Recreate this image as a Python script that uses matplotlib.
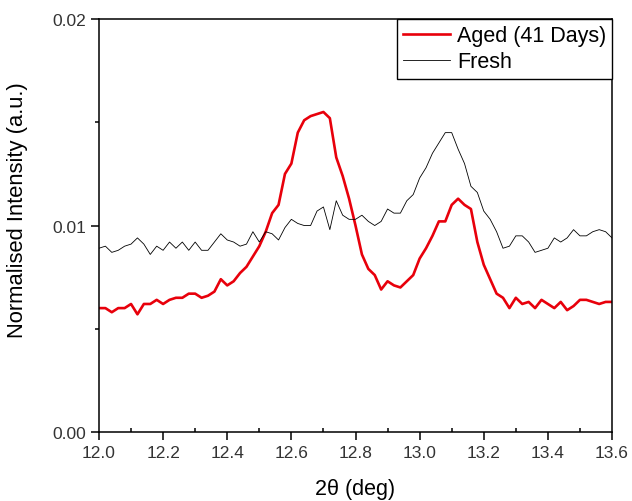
import numpy as np
import matplotlib
matplotlib.use("Agg")
import matplotlib.pyplot as plt
from matplotlib.ticker import MultipleLocator, FormatStrFormatter

plt.rcParams['font.family'] = ['Liberation Sans', 'DejaVu Sans']

# 2theta grid (deg), 0.02 step
two_theta = np.round(np.arange(12.0, 13.6001, 0.02), 2)

aged = [0.0060, 0.0060, 0.0058, 0.0060, 0.0060, 0.0062, 0.0057, 0.0062, 0.0062, 0.0064,
        0.0062, 0.0064, 0.0065, 0.0065, 0.0067, 0.0067, 0.0065, 0.0066, 0.0068, 0.0074,
        0.0071, 0.0073, 0.0077, 0.0080, 0.0085, 0.0090, 0.0097, 0.0106, 0.0110, 0.0125,
        0.0130, 0.0145, 0.0151, 0.0153, 0.0154, 0.0155, 0.0152, 0.0133, 0.0124, 0.0113,
        0.0100, 0.0086, 0.0079, 0.0076, 0.0069, 0.0073, 0.0071, 0.0070, 0.0073, 0.0076,
        0.0084, 0.0089, 0.0095, 0.0102, 0.0102, 0.0110, 0.0113, 0.0110, 0.0108, 0.0092,
        0.0081, 0.0074, 0.0067, 0.0065, 0.0060, 0.0065, 0.0062, 0.0063, 0.0060, 0.0064,
        0.0062, 0.0060, 0.0063, 0.0059, 0.0061, 0.0064, 0.0064, 0.0063, 0.0062, 0.0063,
        0.0063]

fresh = [0.0089, 0.0090, 0.0087, 0.0088, 0.0090, 0.0091, 0.0094, 0.0091, 0.0086, 0.0090,
         0.0088, 0.0092, 0.0089, 0.0092, 0.0088, 0.0092, 0.0088, 0.0088, 0.0092, 0.0096,
         0.0093, 0.0092, 0.0090, 0.0091, 0.0097, 0.0092, 0.0097, 0.0096, 0.0093, 0.0099,
         0.0103, 0.0101, 0.0100, 0.0100, 0.0107, 0.0109, 0.0098, 0.0112, 0.0105, 0.0103,
         0.0103, 0.0105, 0.0102, 0.0100, 0.0102, 0.0108, 0.0106, 0.0106, 0.0112, 0.0115,
         0.0123, 0.0128, 0.0135, 0.0140, 0.0145, 0.0145, 0.0137, 0.0130, 0.0119, 0.0116,
         0.0107, 0.0103, 0.0097, 0.0089, 0.0090, 0.0095, 0.0095, 0.0092, 0.0087, 0.0088,
         0.0089, 0.0094, 0.0092, 0.0094, 0.0098, 0.0095, 0.0095, 0.0097, 0.0098, 0.0097,
         0.0094]

fig = plt.figure(figsize=(6.32, 5.02), dpi=100)
ax = fig.add_axes([0.1566, 0.1375, 0.9684 - 0.1566, 0.960 - 0.1375])

ax.plot(two_theta, aged, color="#e8000b", linewidth=1.9, label="Aged (41 Days)")
ax.plot(two_theta, fresh, color="black", linewidth=0.6, label="Fresh")

ax.set_xlim(12.0, 13.6)
ax.set_ylim(0, 0.02)
ax.xaxis.set_major_locator(MultipleLocator(0.2))
ax.xaxis.set_minor_locator(MultipleLocator(0.1))
ax.yaxis.set_major_locator(MultipleLocator(0.01))
ax.yaxis.set_minor_locator(MultipleLocator(0.005))
ax.xaxis.set_major_formatter(FormatStrFormatter("%.1f"))
ax.yaxis.set_major_formatter(FormatStrFormatter("%.2f"))

for s in ax.spines.values():
    s.set_linewidth(1.1)
ax.tick_params(axis="x", which="major", direction="out", length=6, width=1.1,
               labelsize=12.5, labelcolor="#333333")
ax.tick_params(axis="x", which="minor", direction="in", length=3, width=1.1)
ax.tick_params(axis="y", which="major", direction="out", length=6, width=1.1,
               labelsize=12.5, labelcolor="#333333")
ax.tick_params(axis="y", which="minor", direction="out", length=3, width=1.1)

ax.set_xlabel("2θ (deg)", fontsize=15.5, labelpad=13)
ax.set_ylabel("Normalised Intensity (a.u.)", fontsize=15.8)
ax.yaxis.set_label_coords(-0.138, 0.54)

leg = ax.legend(loc="upper right", fontsize=15.5, frameon=True, fancybox=False,
                borderaxespad=0, handlelength=2.2, handletextpad=0.3,
                borderpad=0.28, labelspacing=0.25)
leg.get_frame().set_edgecolor("black")
leg.get_frame().set_linewidth(1.0)
leg.get_frame().set_alpha(1)

fig.savefig("out.png", dpi=100)
